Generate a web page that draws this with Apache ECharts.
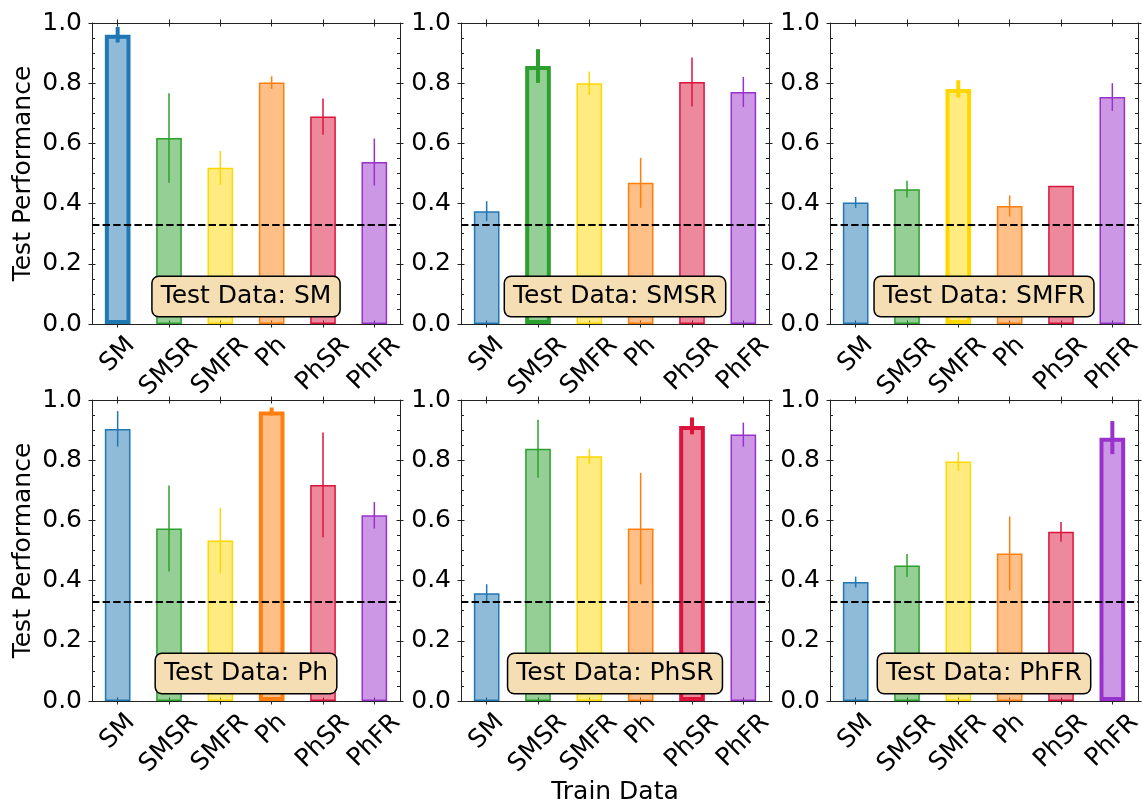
<!DOCTYPE html>
<html>
<head>
<meta charset="utf-8">
<script src="https://cdn.jsdelivr.net/npm/echarts@6/dist/echarts.min.js"></script>
<style>
  html, body { margin: 0; padding: 0; background: #ffffff; }
  #chart { width: 1143px; height: 805px; }
</style>
</head>
<body>
<div id="chart"></div>
<script>
// Training sets (x categories) and test sets (one panel each)
const trainSets = ['SM', 'SMSR', 'SMFR', 'Ph', 'PhSR', 'PhFR'];
const testSets  = ['SM', 'SMSR', 'SMFR', 'Ph', 'PhSR', 'PhFR'];
const yTicks = [0.0, 0.2, 0.4, 0.6, 0.8, 1.0];
const chanceLevel = 1 / 3;

// Mean test performance per training set, one array per test set
const meanSM   = [0.961, 0.618, 0.519, 0.802, 0.689, 0.538];
const meanSMSR = [0.375, 0.857, 0.800, 0.469, 0.804, 0.771];
const meanSMFR = [0.404, 0.448, 0.781, 0.392, 0.459, 0.754];
const meanPh   = [0.904, 0.573, 0.533, 0.962, 0.718, 0.617];
const meanPhSR = [0.358, 0.838, 0.813, 0.573, 0.914, 0.885];
const meanPhFR = [0.395, 0.450, 0.796, 0.490, 0.562, 0.875];

// Standard deviations (error bar half-lengths)
const stdSM   = [0.026, 0.149, 0.056, 0.021, 0.060, 0.078];
const stdSMSR = [0.033, 0.056, 0.039, 0.083, 0.081, 0.050];
const stdSMFR = [0.018, 0.028, 0.029, 0.035, 0.000, 0.046];
const stdPh   = [0.059, 0.143, 0.108, 0.013, 0.174, 0.044];
const stdPhSR = [0.030, 0.096, 0.025, 0.185, 0.028, 0.040];
const stdPhFR = [0.018, 0.038, 0.031, 0.123, 0.033, 0.055];

const means = [meanSM, meanSMSR, meanSMFR, meanPh, meanPhSR, meanPhFR];
const stds  = [stdSM, stdSMSR, stdSMFR, stdPh, stdPhSR, stdPhFR];

// Styling
const FONT = 'DejaVu Sans';
const FONT_SIZE = 25;
const SPINE = '#222222';
const edgeColors = ['#1f77b4', '#2ca02c', '#ffd700', '#ff7f0e', '#dc143c', '#9932cc'];
const fillColors = ['rgba(31,119,180,0.5)', 'rgba(44,160,44,0.5)', 'rgba(255,215,0,0.5)',
                    'rgba(255,127,14,0.5)', 'rgba(220,20,60,0.5)', 'rgba(153,50,204,0.5)'];

// Panel layout (pixels)
const PANEL_W = 308, PANEL_H = 301;
const COL_LEFT = [92, 461, 830];
const ROW_TOP = [23, 400];

const measureCtx = document.createElement('canvas').getContext('2d');
measureCtx.font = FONT_SIZE + 'px "' + FONT + '"';
const textWidth = s => measureCtx.measureText(s).width;

const grids = [], xAxes = [], yAxes = [], series = [], graphics = [];

function tickStyle(inside, len) {
  return { show: true, inside: inside, length: len, alignWithLabel: true,
           lineStyle: { color: SPINE, width: 1 } };
}

testSets.forEach((testName, t) => {
  const left = COL_LEFT[t % 3], top = ROW_TOP[Math.floor(t / 3)];
  grids.push({ left: left, top: top, width: PANEL_W, height: PANEL_H });
  const xBase = xAxes.length, yBase = yAxes.length;

  // x axes: bottom and top spines, major ticks crossing the spine
  const xCommon = { type: 'category', gridIndex: t, data: trainSets, boundaryGap: true,
                    axisLabel: { show: false }, splitLine: { show: false } };
  xAxes.push(Object.assign({}, xCommon, { position: 'bottom',
    axisLine: { show: true, onZero: false, lineStyle: { color: SPINE, width: 1 } }, axisTick: tickStyle(false, 3.5) }));
  xAxes.push(Object.assign({}, xCommon, { position: 'bottom',
    axisLine: { show: false, onZero: false }, axisTick: tickStyle(true, 3.5) }));
  xAxes.push(Object.assign({}, xCommon, { position: 'top',
    axisLine: { show: true, onZero: false, lineStyle: { color: SPINE, width: 1 } }, axisTick: tickStyle(false, 3.5) }));
  xAxes.push(Object.assign({}, xCommon, { position: 'top',
    axisLine: { show: false, onZero: false }, axisTick: tickStyle(true, 3.5) }));

  // y axes: left and right spines, minor ticks pointing inward
  const yCommon = { type: 'value', gridIndex: t, min: yTicks[0], max: yTicks[yTicks.length - 1],
                    interval: 0.2, splitLine: { show: false } };
  const minor = { show: true, splitNumber: 4, length: 3, lineStyle: { color: SPINE, width: 1 } };
  yAxes.push(Object.assign({}, yCommon, { position: 'left',
    axisLine: { show: true, lineStyle: { color: SPINE, width: 1 } }, axisTick: tickStyle(false, 3.5),
    axisLabel: { show: true, margin: 10, color: '#000', fontSize: FONT_SIZE, fontFamily: FONT,
                 formatter: v => v.toFixed(1) } }));
  yAxes.push(Object.assign({}, yCommon, { position: 'left',
    axisLine: { show: false }, axisTick: tickStyle(true, 3.5), minorTick: minor, axisLabel: { show: false } }));
  yAxes.push(Object.assign({}, yCommon, { position: 'right',
    axisLine: { show: true, lineStyle: { color: SPINE, width: 1 } }, axisTick: tickStyle(false, 3.5),
    axisLabel: { show: false } }));
  yAxes.push(Object.assign({}, yCommon, { position: 'right',
    axisLine: { show: false }, axisTick: tickStyle(true, 3.5), minorTick: minor, axisLabel: { show: false } }));

  const mean = means[t], sd = stds[t];

  // Bars: the matching train/test pair gets a heavy outline
  series.push({
    type: 'bar', xAxisIndex: xBase, yAxisIndex: yBase, barWidth: '50%', z: 2,
    animation: false, silent: true,
    data: mean.map((v, i) => ({
      value: v,
      itemStyle: { color: fillColors[i], borderColor: edgeColors[i], borderWidth: i === t ? 4 : 1.5 }
    })),
    markLine: {
      silent: true, animation: false, symbol: ['none', 'none'], label: { show: false },
      lineStyle: { color: '#000', width: 2, type: [7.4, 3.2] },
      emphasis: { disabled: true },
      data: [{ yAxis: chanceLevel }]
    }
  });

  // Error bars (mean +/- std), no caps
  series.push({
    type: 'custom', xAxisIndex: xBase, yAxisIndex: yBase, z: 4, animation: false, silent: true,
    encode: { x: 0, y: [1, 2] },
    data: mean.map((v, i) => [i, v - sd[i], v + sd[i]]),
    renderItem(params, api) {
      const i = api.value(0);
      const lo = api.coord([i, api.value(1)]);
      const hi = api.coord([i, api.value(2)]);
      return { type: 'line', shape: { x1: lo[0], y1: lo[1], x2: hi[0], y2: hi[1] },
               style: { stroke: edgeColors[i], lineWidth: i === t ? 4 : 1.5 } };
    }
  });

  // Category labels rotated 45 degrees, centred under each tick
  series.push({
    type: 'custom', xAxisIndex: xBase, yAxisIndex: yBase, z: 5, clip: false,
    animation: false, silent: true,
    encode: { x: 0, y: 1 },
    data: trainSets.map((c, i) => [i, 0]),
    renderItem(params, api) {
      const p = api.coord([api.value(0), 0]);
      const name = trainSets[params.dataIndex];
      const L = textWidth(name);
      return { type: 'text', x: p[0], y: p[1] + 17.5 + L * 0.3536, rotation: Math.PI / 4,
               style: { text: name, fontSize: FONT_SIZE, fontFamily: FONT, fill: '#000',
                        align: 'center', verticalAlign: 'middle' } };
    }
  });

  // Test-set tag inside the panel
  graphics.push({
    type: 'text', x: left + PANEL_W / 2, y: top + PANEL_H - 27.5, z: 100, silent: true,
    style: { text: 'Test Data: ' + testName, fontSize: FONT_SIZE, fontFamily: FONT, fill: '#000',
             align: 'center', verticalAlign: 'middle', backgroundColor: '#f5deb3',
             borderColor: '#000', borderWidth: 1.5, borderRadius: 6, padding: [7, 8] }
  });
});

// Shared axis titles
ROW_TOP.forEach(top => {
  graphics.push({
    type: 'text', x: 23, y: top + PANEL_H / 2, rotation: Math.PI / 2, silent: true,
    style: { text: 'Test Performance', fontSize: FONT_SIZE, fontFamily: FONT, fill: '#000',
             align: 'center', verticalAlign: 'middle' }
  });
});
graphics.push({
  type: 'text', x: (COL_LEFT[0] + COL_LEFT[2] + PANEL_W) / 2, y: 792, silent: true,
  style: { text: 'Train Data', fontSize: FONT_SIZE, fontFamily: FONT, fill: '#000',
           align: 'center', verticalAlign: 'middle' }
});

const chart = echarts.init(document.getElementById('chart'), null, { renderer: 'canvas' });
chart.setOption({
  animation: false,
  backgroundColor: '#ffffff',
  grid: grids,
  xAxis: xAxes,
  yAxis: yAxes,
  series: series,
  graphic: graphics
});
</script>
</body>
</html>
